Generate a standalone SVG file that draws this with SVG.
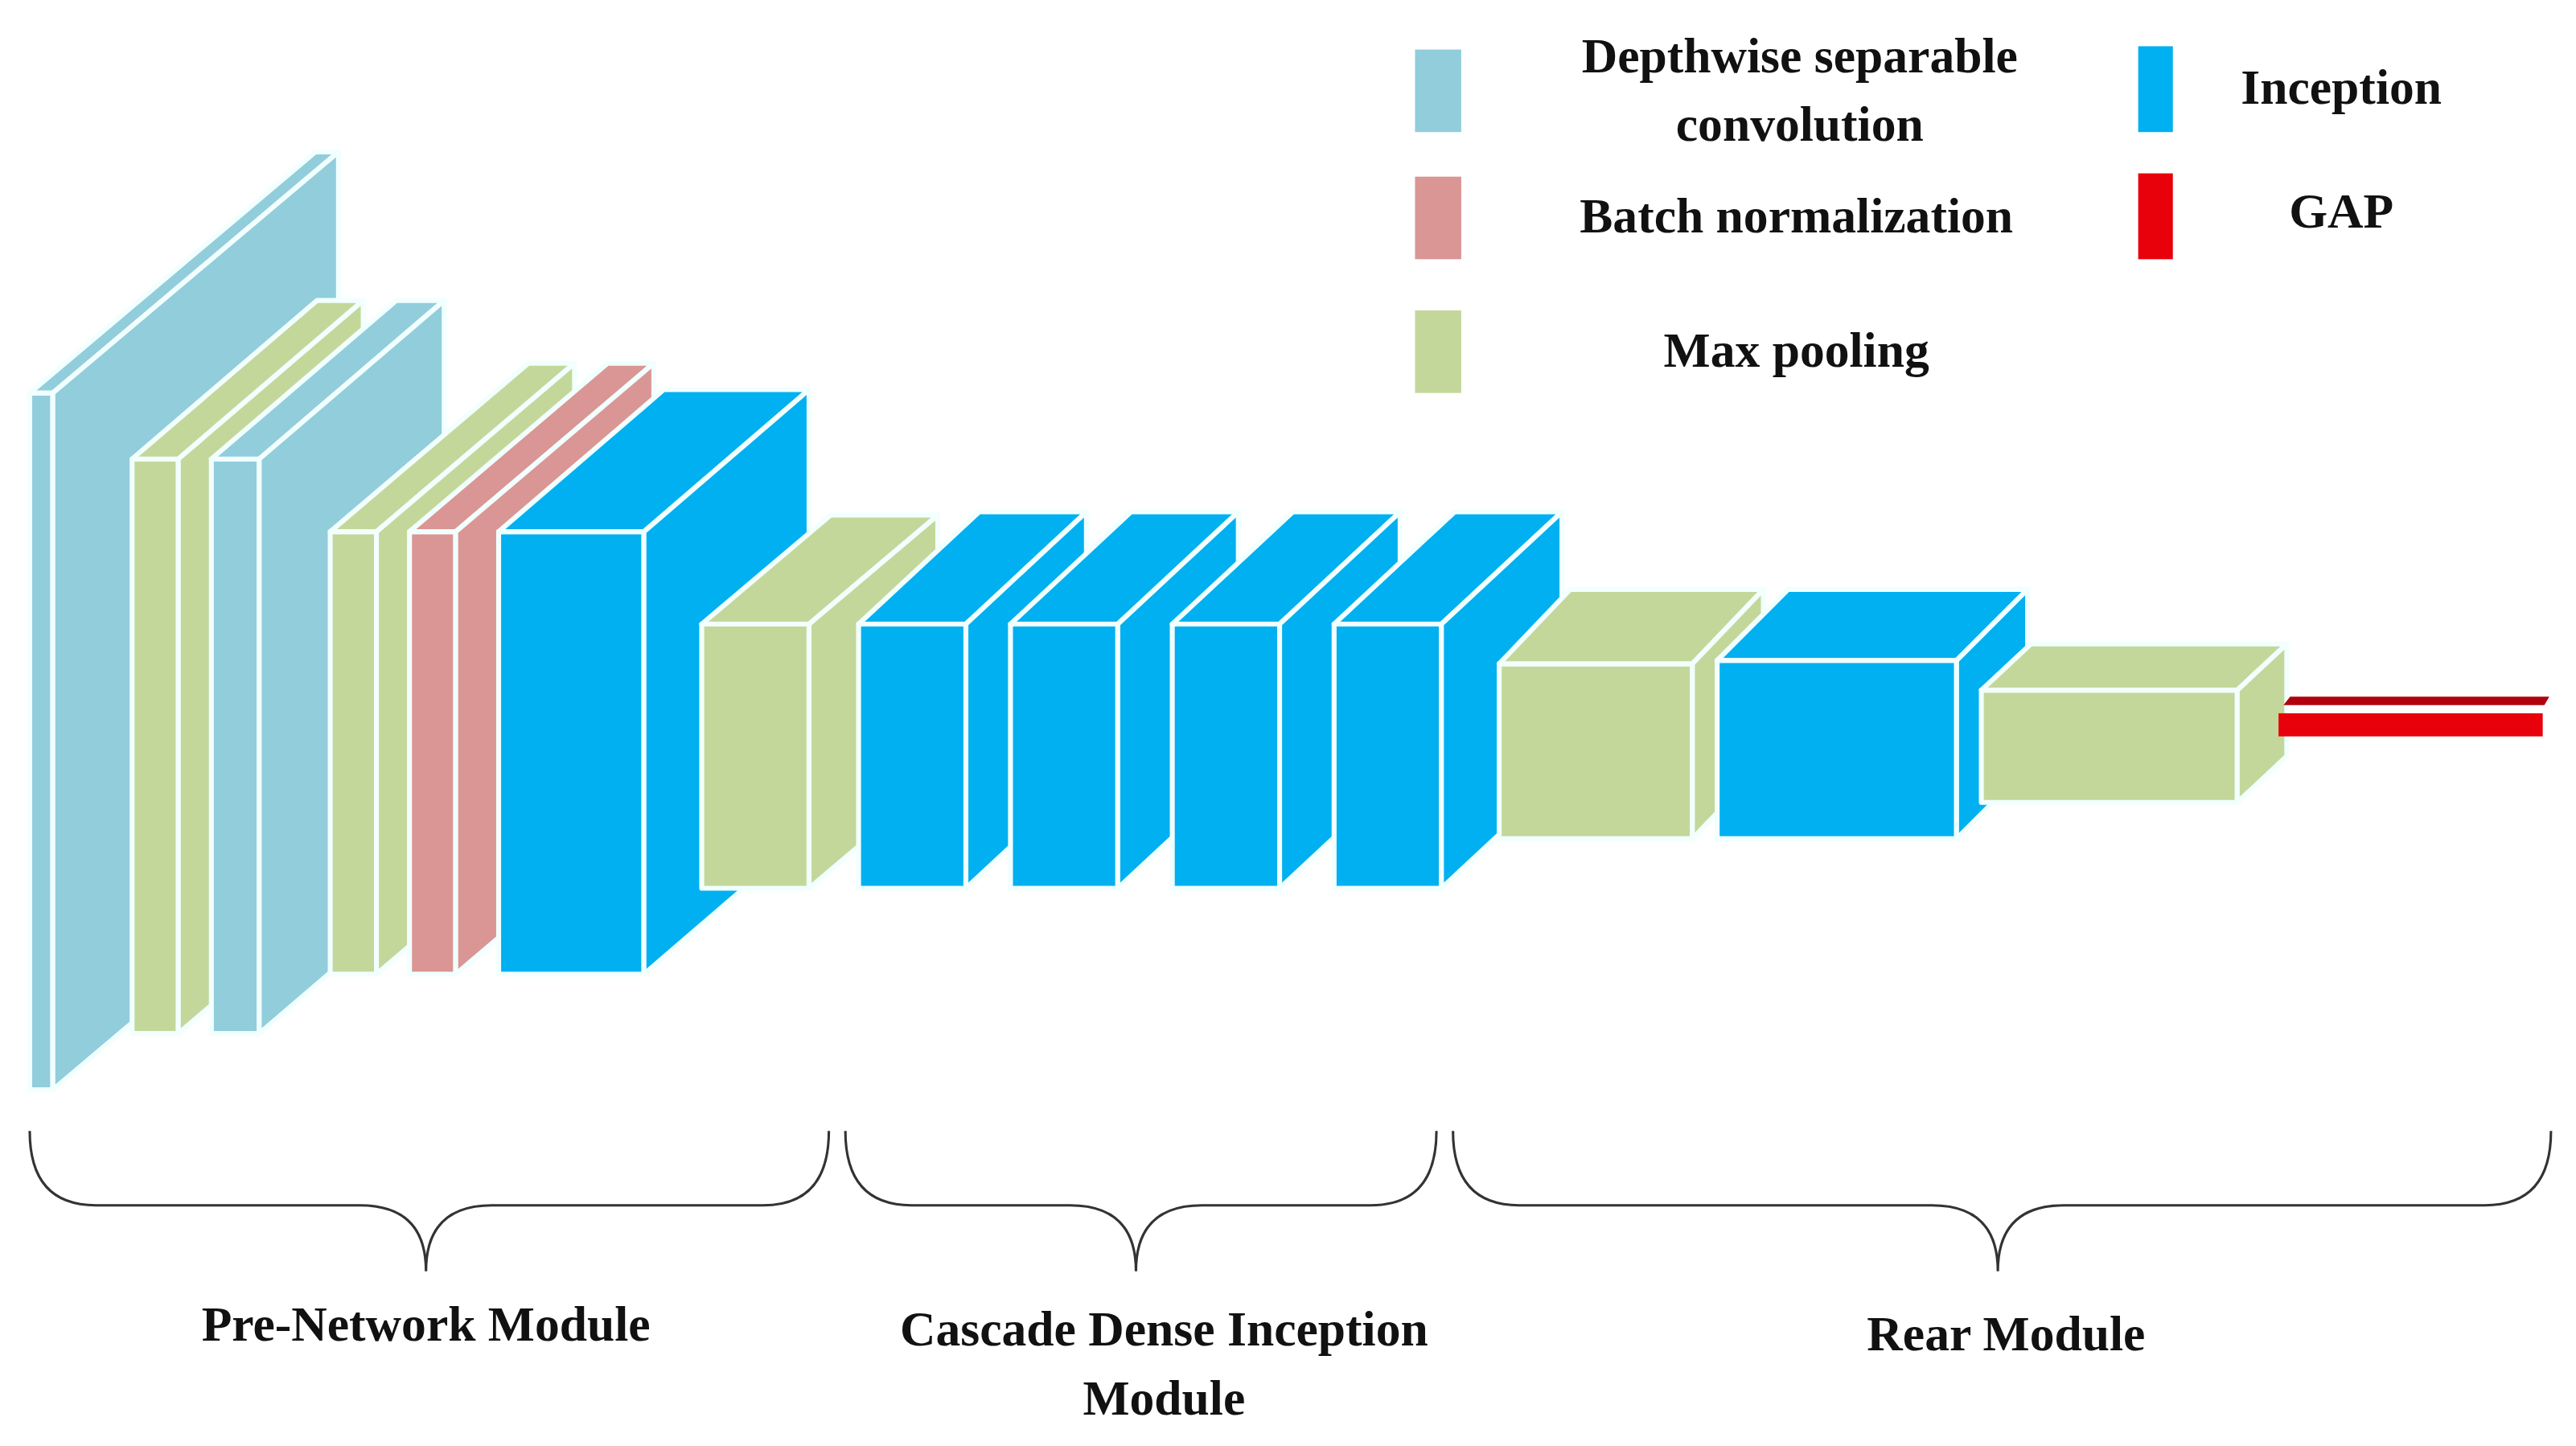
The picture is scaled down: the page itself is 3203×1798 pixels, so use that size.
<svg xmlns="http://www.w3.org/2000/svg" width="3203" height="1798" viewBox="0 0 3203 1798">
<style>
.lb{fill:#92CDDC}.gr{fill:#C4D79B}.pk{fill:#D99694}.bl{fill:#00B0F0}.rd{fill:#E8000B}
.blk polygon,.blk rect{stroke:#F2FFFF;stroke-width:3;stroke-linejoin:round}
.t{font-family:"Liberation Serif",serif;font-weight:bold;font-size:30px;fill:#111;text-anchor:middle}
.br{fill:none;stroke:#333;stroke-width:1.5}
</style>
<rect width="3203" height="1798" fill="#fff"/>
<g transform="scale(2.053)">
<g id="b1" class="blk lb"><rect x="18" y="238" width="14" height="422"/><polygon points="18,238 32,238 205,92 191,92"/><polygon points="32,238 205,92 205,514 32,660"/></g>
<g id="b2" class="blk gr"><rect x="80" y="278" width="28" height="348"/><polygon points="80,278 108,278 220,182 192,182"/><polygon points="108,278 220,182 220,530 108,626"/></g>
<g id="b3" class="blk lb"><rect x="128" y="278" width="29" height="348"/><polygon points="128,278 157,278 269,182 240,182"/><polygon points="157,278 269,182 269,530 157,626"/></g>
<g id="b4" class="blk gr"><rect x="200" y="322" width="28" height="268"/><polygon points="200,322 228,322 348,220 320,220"/><polygon points="228,322 348,220 348,488 228,590"/></g>
<g id="b5" class="blk pk"><rect x="248" y="322" width="28" height="268"/><polygon points="248,322 276,322 396,220 368,220"/><polygon points="276,322 396,220 396,488 276,590"/></g>
<g id="b6" class="blk bl"><rect x="302" y="322" width="88" height="268"/><polygon points="302,322 390,322 490,236 402,236"/><polygon points="390,322 490,236 490,504 390,590"/></g>
<g id="b7" class="blk gr"><rect x="425" y="378" width="65" height="160"/><polygon points="425,378 490,378 568,312 503,312"/><polygon points="490,378 568,312 568,472 490,538"/></g>
<g id="b8" class="blk bl"><rect x="520" y="378" width="65" height="160"/><polygon points="520,378 585,378 658,310 593,310"/><polygon points="585,378 658,310 658,470 585,538"/></g>
<g id="b9" class="blk bl"><rect x="612" y="378" width="65" height="160"/><polygon points="612,378 677,378 750,310 685,310"/><polygon points="677,378 750,310 750,470 677,538"/></g>
<g id="b10" class="blk bl"><rect x="710" y="378" width="65" height="160"/><polygon points="710,378 775,378 848,310 783,310"/><polygon points="775,378 848,310 848,470 775,538"/></g>
<g id="b11" class="blk bl"><rect x="808" y="378" width="65" height="160"/><polygon points="808,378 873,378 946,310 881,310"/><polygon points="873,378 946,310 946,470 873,538"/></g>
<g id="b12" class="blk gr"><rect x="908" y="402" width="117" height="106"/><polygon points="908,402 1025,402 1068,357 951,357"/><polygon points="1025,402 1068,357 1068,463 1025,508"/></g>
<g id="b13" class="blk bl"><rect x="1040" y="400" width="145" height="108"/><polygon points="1040,400 1185,400 1228,357 1083,357"/><polygon points="1185,400 1228,357 1228,465 1185,508"/></g>
<g id="b14" class="blk gr"><rect x="1200" y="418" width="155" height="68"/><polygon points="1200,418 1355,418 1385,390 1230,390"/><polygon points="1355,418 1385,390 1385,458 1355,486"/></g>
<g id="gap"><polygon points="1383,427 1541,427 1544,422 1387,422" fill="#B00010"/><rect x="1380" y="432" width="160" height="14" class="rd"/></g>
<g id="legend">
<rect x="857" y="30" width="28" height="50" class="lb"/><rect x="857" y="107" width="28" height="50" class="pk"/><rect x="857" y="188" width="28" height="50" class="gr"/>
<rect x="1295" y="28" width="21" height="52" class="bl"/><rect x="1295" y="105" width="21" height="52" class="rd"/>
<text class="t" x="1090" y="44">Depthwise separable</text><text class="t" x="1090" y="85">convolution</text>
<text class="t" x="1088" y="141">Batch normalization</text><text class="t" x="1088" y="222">Max pooling</text>
<text class="t" x="1418" y="63">Inception</text><text class="t" x="1418" y="138">GAP</text>
</g>
<g id="braces" class="br">
<path d="M18,685 Q18,730 58,730 L218,730 Q258,730 258,770 Q258,730 298,730 L462,730 Q502,730 502,685"/>
<path d="M512,685 Q512,730 552,730 L648,730 Q688,730 688,770 Q688,730 728,730 L830,730 Q870,730 870,685"/>
<path d="M880,685 Q880,730 920,730 L1170,730 Q1210,730 1210,770 Q1210,730 1250,730 L1505,730 Q1545,730 1545,685"/>
</g>
<g id="labels">
<text class="t" x="258" y="812">Pre-Network Module</text>
<text class="t" x="705" y="815">Cascade Dense Inception</text><text class="t" x="705" y="857">Module</text>
<text class="t" x="1215" y="818">Rear Module</text>
</g>
</g>
</svg>
